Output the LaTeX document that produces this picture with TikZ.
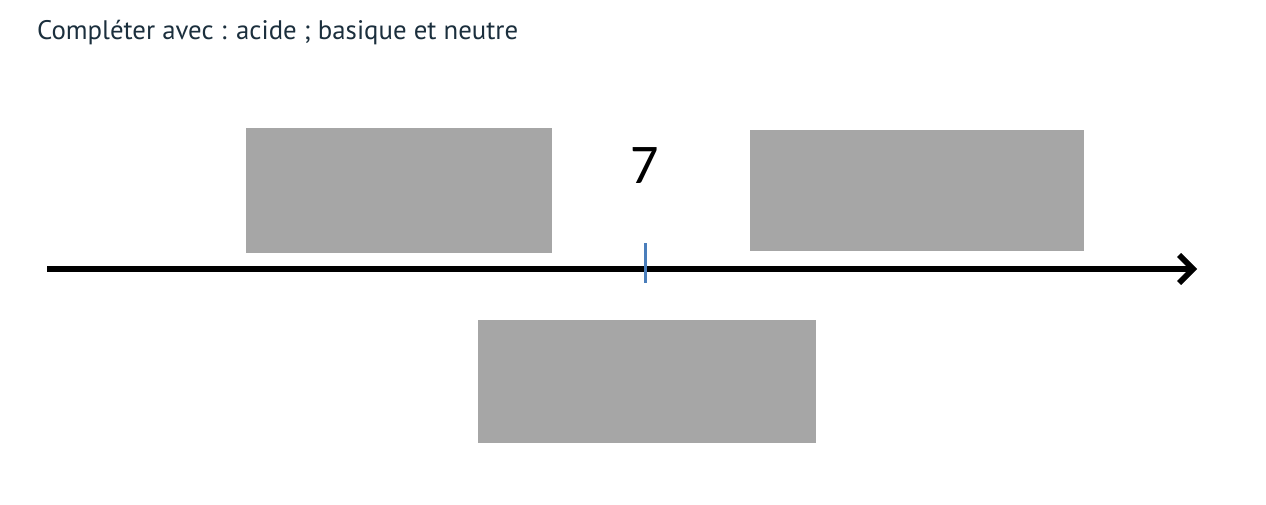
\documentclass[tikz,border=0pt]{standalone}
\usepackage{fontspec}
\setmainfont{Carlito}
\newfontfamily\titlefont{PT Sans}
\usetikzlibrary{arrows.meta}
\definecolor{boxgray}{HTML}{A6A6A6}
\definecolor{tickblue}{HTML}{4A7EBB}
\definecolor{titleink}{HTML}{1B2F3D}
\begin{document}
\begin{tikzpicture}[x=1pt,y=-1pt,
  answer/.style={fill=boxgray,inner sep=0pt,anchor=north west},
  axe/.style={line width=5.5pt,-{Straight Barb[length=14pt,width=28pt]}}]
\useasboundingbox (0,0) rectangle (1266,504);
\node[anchor=base west,inner sep=0pt,text=titleink,font=\titlefont\fontsize{26.8}{30}\selectfont] (consigne) at (37,39) {Compléter avec : acide ; basique et neutre};
% axe du pH
\coordinate (debut) at (47,269);
\coordinate (fin) at (1197,269);
\draw[axe,black!22,shift={(1.5,2.5)}] (debut)--(fin);
\draw[axe] (debut)--(fin);
\coordinate (neutre) at (645,269);
\draw[tickblue,line width=3pt] (neutre)++(0,-26)--++(0,40);
\node[anchor=base,inner sep=0pt,font=\fontsize{56}{60}\selectfont] (sept) at (645,183) {7};
% cases a completer
\node[answer,minimum width=306pt,minimum height=125pt] (acide) at (246,128) {};
\node[answer,minimum width=334pt,minimum height=121pt] (basique) at (750,130) {};
\node[answer,minimum width=338pt,minimum height=123pt] (milieu) at (478,320) {};
\end{tikzpicture}
\end{document}
